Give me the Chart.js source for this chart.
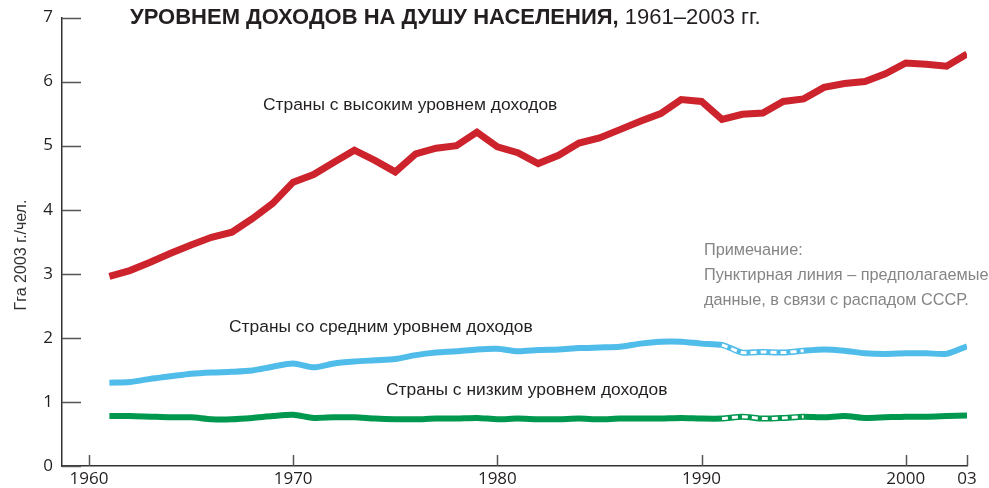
<!DOCTYPE html>
<html>
<head>
<meta charset="utf-8">
<script src="https://cdn.jsdelivr.net/npm/chart.js@4.4.1/dist/chart.umd.min.js"></script>
<style>
  body { margin: 0; background: #fff; }
  canvas { display: block; }
</style>
</head>
<body>
<canvas id="footprintChart" width="989" height="488"></canvas>
<script>
// Years and values (global hectares per person, 2003 gha)
const years = [1961, 1962, 1963, 1964, 1965, 1966, 1967, 1968, 1969, 1970,
  1971, 1972, 1973, 1974, 1975, 1976, 1977, 1978, 1979, 1980,
  1981, 1982, 1983, 1984, 1985, 1986, 1987, 1988, 1989, 1990,
  1991, 1992, 1993, 1994, 1995, 1996, 1997, 1998, 1999, 2000,
  2001, 2002, 2003];

const highIncome = [2.96, 3.05, 3.18, 3.32, 3.45, 3.57, 3.65, 3.86, 4.10, 4.43,
  4.55, 4.74, 4.93, 4.77, 4.59, 4.87, 4.96, 5.00, 5.21, 4.98,
  4.89, 4.72, 4.85, 5.04, 5.12, 5.25, 5.38, 5.50, 5.72, 5.69,
  5.41, 5.49, 5.51, 5.69, 5.73, 5.91, 5.97, 6.00, 6.12, 6.29,
  6.27, 6.24, 6.43];

const middleIncome = [1.30, 1.31, 1.36, 1.40, 1.44, 1.46, 1.47, 1.49, 1.55, 1.60,
  1.54, 1.60, 1.63, 1.65, 1.67, 1.73, 1.77, 1.79, 1.82, 1.83,
  1.79, 1.81, 1.82, 1.84, 1.85, 1.86, 1.91, 1.94, 1.94, 1.91,
  1.89, 1.77, 1.78, 1.77, 1.80, 1.82, 1.80, 1.76, 1.75, 1.76,
  1.76, 1.75, 1.87];

const lowIncome = [0.78, 0.78, 0.77, 0.76, 0.76, 0.73, 0.73, 0.75, 0.78, 0.80,
  0.75, 0.76, 0.76, 0.74, 0.73, 0.73, 0.74, 0.74, 0.75, 0.73,
  0.74, 0.73, 0.73, 0.74, 0.73, 0.74, 0.74, 0.74, 0.75, 0.74,
  0.74, 0.77, 0.74, 0.75, 0.77, 0.76, 0.78, 0.75, 0.76, 0.77,
  0.77, 0.78, 0.79];

// Period with estimated data (USSR break-up)
const estimatedFrom = 1991;
const estimatedTo = 1995;

const xTickValues = [1960, 1970, 1980, 1990, 2000, 2003];
const xTickLabels = ['1960', '1970', '1980', '1990', '2000', '03'];
const yTickValues = [0, 1, 2, 3, 4, 5, 6, 7];

const titleBold = 'УРОВНЕМ ДОХОДОВ НА ДУШУ НАСЕЛЕНИЯ,';
const titleRest = ' 1961–2003 гг.';
const yTitle = 'Гга 2003 г./чел.';
const seriesLabels = [
  { text: 'Страны с высоким уровнем доходов', x: 1968.52, y: 5.63 },
  { text: 'Страны со средним уровнем доходов', x: 1966.86, y: 2.17 },
  { text: 'Страны с низким уровнем доходов', x: 1974.55, y: 1.185 }
];
const noteLines = ['Примечание:', 'Пунктирная линия – предполагаемые', 'данные, в связи с распадом СССР.'];

const toPoints = (values) => years.map((year, i) => ({ x: year, y: values[i] }));
const estimatedOnly = (values) => years.map((year, i) => ({
  x: year,
  y: (year >= estimatedFrom && year <= estimatedTo) ? values[i] : null
}));

// Tick marks that point into the plot area
const inwardTicksPlugin = {
  id: 'inwardTicks',
  afterDraw(chart) {
    const ctx = chart.ctx;
    const { x: xScale, y: yScale } = chart.scales;
    const area = chart.chartArea;
    ctx.save();
    ctx.strokeStyle = '#555';
    ctx.lineWidth = 1.5;
    ctx.beginPath();
    yTickValues.forEach((v) => {
      const py = Math.round(yScale.getPixelForValue(v)) + 0.5;
      ctx.moveTo(area.left, py);
      ctx.lineTo(area.left + 19, py);
    });
    xTickValues.forEach((v) => {
      const px = Math.round(xScale.getPixelForValue(v)) + 0.5;
      ctx.moveTo(px, area.bottom);
      ctx.lineTo(px, area.bottom - 11);
    });
    ctx.stroke();
    ctx.restore();
  }
};

// Text overlays: title, axis title, series labels, note
const textPlugin = {
  id: 'textOverlay',
  afterDraw(chart) {
    const ctx = chart.ctx;
    const xScale = chart.scales.x;
    const yScale = chart.scales.y;
    ctx.save();
    ctx.textBaseline = 'middle';
    ctx.textAlign = 'left';

    // Title
    ctx.fillStyle = '#231f20';
    ctx.font = 'bold 22px "Liberation Sans", Arial, sans-serif';
    ctx.fillText(titleBold, 130, 18);
    const boldWidth = ctx.measureText(titleBold).width;
    ctx.font = '22px "Liberation Sans", Arial, sans-serif';
    ctx.fillText(titleRest, 130 + boldWidth, 18);

    // Y axis title
    ctx.save();
    ctx.translate(22, 255);
    ctx.rotate(-Math.PI / 2);
    ctx.textAlign = 'center';
    ctx.font = '16px "Liberation Sans", Arial, sans-serif';
    ctx.fillStyle = '#333';
    ctx.fillText(yTitle, 0, 0);
    ctx.restore();

    // Series labels
    ctx.font = '17.4px "Liberation Sans", Arial, sans-serif';
    ctx.fillStyle = '#231f20';
    seriesLabels.forEach((label) => {
      ctx.fillText(label.text, xScale.getPixelForValue(label.x), yScale.getPixelForValue(label.y));
    });

    // Note
    ctx.font = '16.3px "Liberation Sans", Arial, sans-serif';
    ctx.fillStyle = '#858585';
    const noteX = xScale.getPixelForValue(1990.12);
    noteLines.forEach((line, i) => {
      ctx.fillText(line, noteX, yScale.getPixelForValue(3.37 - i * 0.39));
    });
    ctx.restore();
  }
};

const ctx = document.getElementById('footprintChart').getContext('2d');
const footprintChart = new Chart(ctx, {
  type: 'line',
  data: {
    datasets: [
      {
        label: 'high',
        data: toPoints(highIncome),
        borderColor: '#cc232c',
        borderWidth: 7,
        tension: 0,
        order: 3
      },
      {
        label: 'middle',
        data: toPoints(middleIncome),
        borderColor: '#4fbcea',
        borderWidth: 6,
        tension: 0.25,
        order: 3
      },
      {
        label: 'low',
        data: toPoints(lowIncome),
        borderColor: '#00984f',
        borderWidth: 6,
        tension: 0.25,
        order: 3
      },
      {
        label: 'middle estimated',
        data: estimatedOnly(middleIncome),
        borderColor: '#ffffff',
        borderWidth: 3,
        borderDash: [6, 4],
        tension: 0.25,
        order: 1
      },
      {
        label: 'low estimated',
        data: estimatedOnly(lowIncome),
        borderColor: '#ffffff',
        borderWidth: 3,
        borderDash: [6, 4],
        tension: 0.25,
        order: 1
      }
    ]
  },
  options: {
    responsive: false,
    animation: false,
    spanGaps: false,
    elements: { point: { radius: 0, hoverRadius: 0 } },
    layout: { padding: { left: 0, top: 17, right: 22, bottom: 0 } },
    plugins: {
      legend: { display: false },
      title: { display: false },
      tooltip: { enabled: false }
    },
    scales: {
      x: {
        type: 'linear',
        min: 1958.68,
        max: 2003,
        afterFit: (scale) => { scale.height = 22; },
        afterBuildTicks: (scale) => { scale.ticks = xTickValues.map((v) => ({ value: v })); },
        border: { display: true, color: '#333', width: 1.5 },
        grid: { display: true, drawOnChartArea: false, drawTicks: false },
        ticks: {
          autoSkip: false,
          maxRotation: 0,
          padding: 5,
          color: '#231f20',
          font: { family: '"Open Sans", sans-serif', size: 17, lineHeight: 1 },
          callback: (value) => xTickLabels[xTickValues.indexOf(value)]
        }
      },
      y: {
        min: 0,
        max: 7,
        afterFit: (scale) => { scale.width = 62; },
        afterBuildTicks: (scale) => { scale.ticks = yTickValues.map((v) => ({ value: v })); },
        border: { display: true, color: '#333', width: 1.5 },
        grid: { display: true, drawOnChartArea: false, drawTicks: false },
        ticks: {
          padding: 9,
          color: '#231f20',
          font: { family: '"Open Sans", sans-serif', size: 17, lineHeight: 1 }
        }
      }
    }
  },
  plugins: [inwardTicksPlugin, textPlugin]
});
</script>
</body>
</html>
